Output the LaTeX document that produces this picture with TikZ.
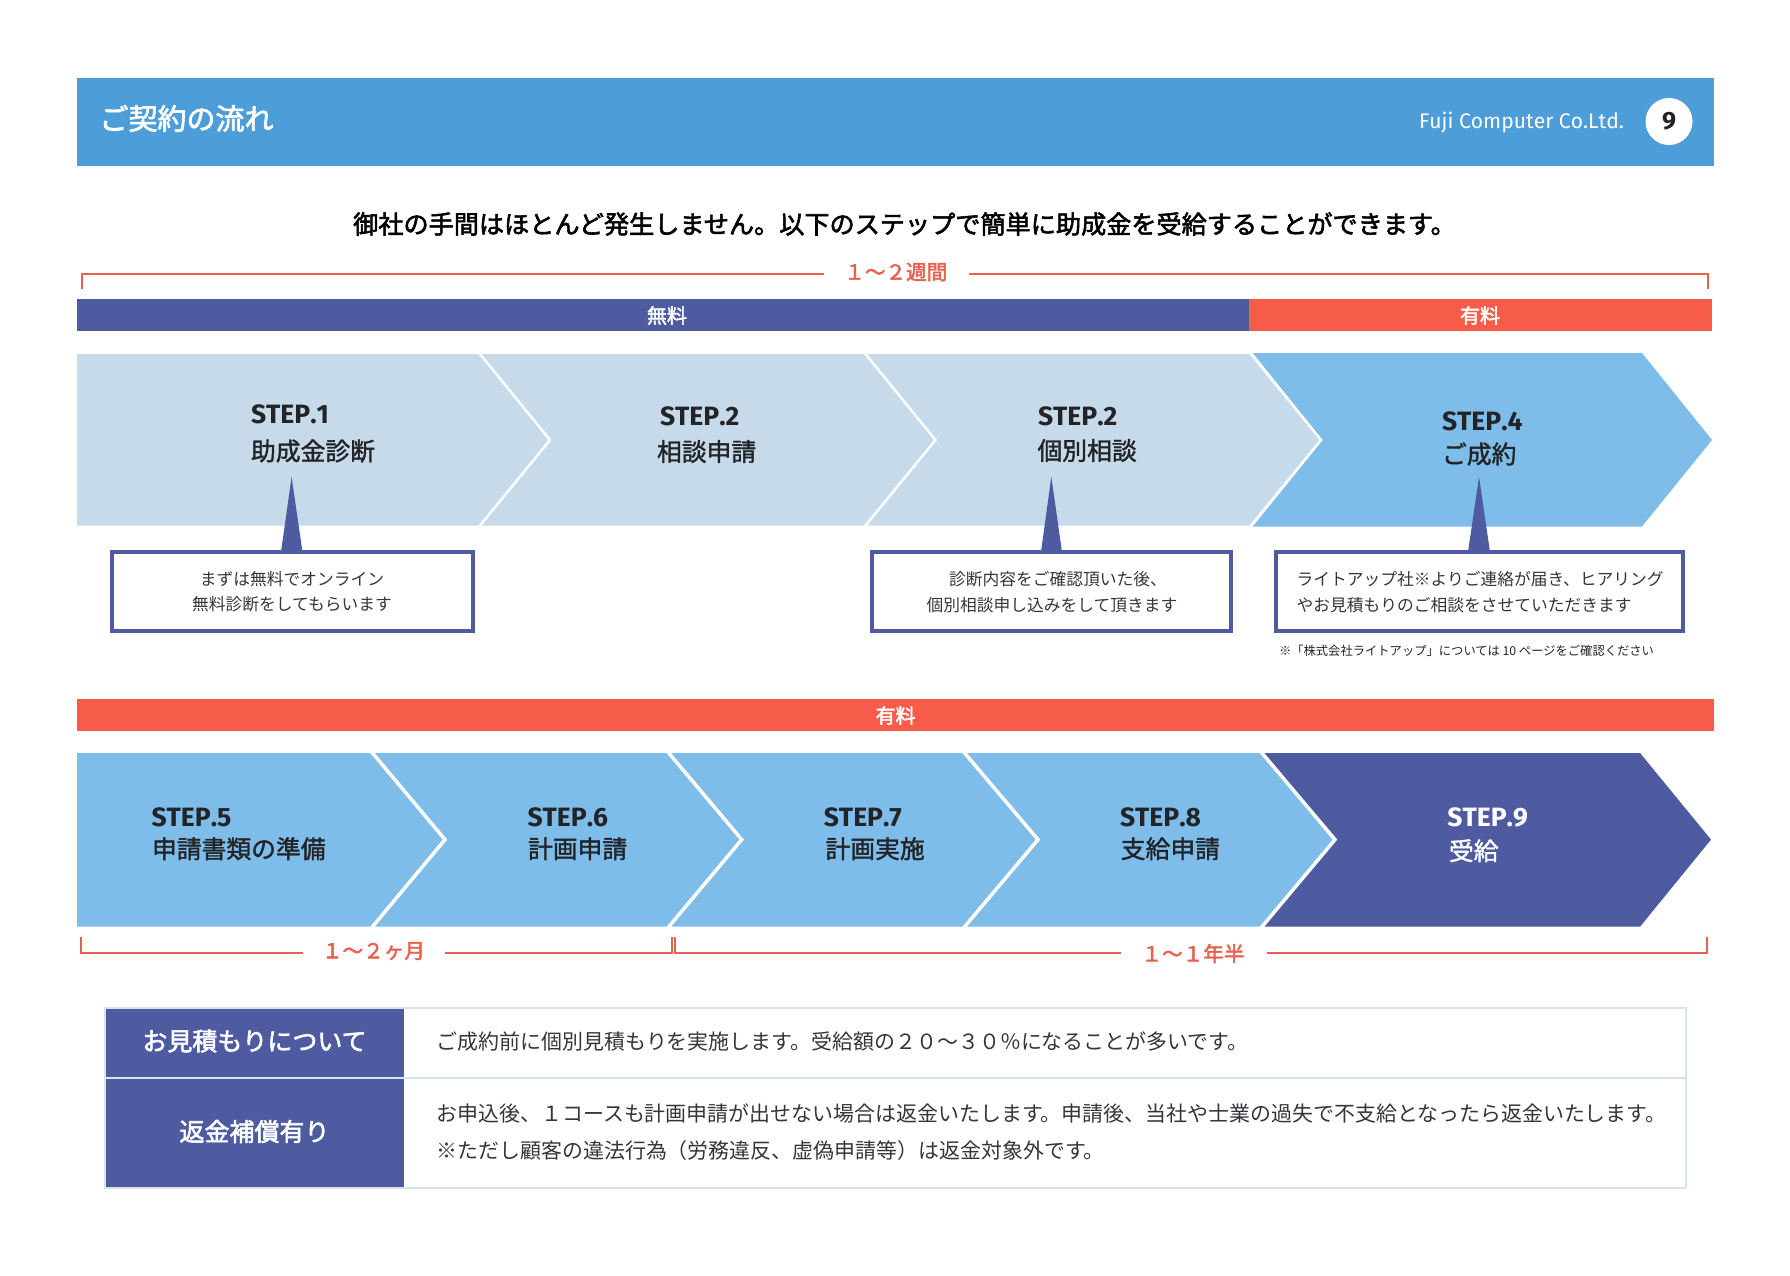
\documentclass[tikz,border=0pt]{standalone}
\usepackage{fontspec}
\setmainfont{Noto Sans CJK JP}
\newfontfamily\jpm[FakeBold=1.5]{Noto Sans CJK JP}
\newfontfamily\jps[FakeBold=2.2]{Noto Sans CJK JP}
\newfontfamily\latf[Kerning=Off]{Fira Sans}
\definecolor{headblue}{HTML}{4D9ED8}
\definecolor{indigo}{HTML}{4E5BA1}
\definecolor{coral}{HTML}{F75C4B}
\definecolor{rust}{HTML}{E8604E}
\definecolor{pale}{HTML}{C6DAE9}
\definecolor{midblue}{HTML}{7EBDE9}
\definecolor{ink}{HTML}{222428}
\definecolor{bodyink}{HTML}{33363A}
\definecolor{rule}{HTML}{D6E3EC}
\newcommand{\fs}[1]{\fontsize{#1pt}{#1pt}\selectfont}
\tikzset{
  x=1pt,y=-1pt,
  txt/.style={inner sep=0pt,outer sep=0pt,anchor=west,text=ink},
  ctr/.style={inner sep=0pt,outer sep=0pt,anchor=center},
  steplat/.style={txt,font=\latf\bfseries\fs{26.5}},
  stepjp/.style={txt,font=\jpm\fs{24.8}},
  barlabel/.style={ctr,text=white,font=\jps\fs{20}},
  timing/.style={ctr,text=rust,font=\jps\fs{20.6}},
  bracket/.style={draw=rust,line width=2pt},
  callout/.style={draw=indigo,line width=4pt,fill=white},
  callnote/.style={txt,text=bodyink,font=\fs{16.75}},
  bodytext/.style={txt,text=bodyink,font=\fs{20.95}},
  celllabel/.style={ctr,text=white,font=\jps\fs{25}},
}
\newcommand{\chev}[8]{% colour, left, notch, shoulder, tip, top, mid, bottom
  \fill[#1] (#2,#6) -- (#4,#6) -- (#5,#7) -- (#4,#8) -- (#2,#8) -- (#3,#7) -- cycle;}
\begin{document}
\begin{tikzpicture}
\useasboundingbox (0,0) rectangle (1790,1276);
\fill[white] (0,0) rectangle (1790,1276);

% header
\fill[headblue] (77,78) rectangle (1714,166);
\node[txt,text=white,font=\jps\fs{29}] (title) at (99.5,118.5) {ご契約の流れ};
\node[txt,text=white,font=\latf\fs{21.1}] (company) at (1419,122.5) {Fuji Computer Co.Ltd.};
\fill[white] (1669,121.5) circle (23.5);
\node[ctr,text=ink,font=\latf\bfseries\fs{25}] (page) at (1669,121.5) {9};

% subtitle
\node[ctr,font=\jps\fs{25.15}] (sub) at (904.5,224) {御社の手間はほとんど発生しません。以下のステップで簡単に助成金を受給することができます。};

% top timing
\node[timing] (t1) at (895.8,272) {１～２週間};
\coordinate (a1) at (81.5,289); \coordinate (a2) at (81.5,274); \coordinate (a3) at (824,274);
\coordinate (b1) at (969,274); \coordinate (b2) at (1707.5,274); \coordinate (b3) at (1707.5,289);
\draw[bracket] (a1) -- (a2) -- (a3);
\draw[bracket] (b1) -- (b2) -- (b3);

% bars
\fill[indigo] (77,299) rectangle (1249,331);
\fill[coral] (1249,299) rectangle (1712,331);
\node[barlabel] (free) at (667,315.5) {無料};
\node[barlabel] (paid1) at (1480,315.5) {有料};

% row 1 chevrons
\chev{pale}{77}{77}{478.2}{548.2}{354}{440}{525.5}
\chev{pale}{481.8}{551.8}{863.7}{933.7}{354}{440}{525.5}
\chev{pale}{867.3}{937.3}{1249.2}{1319.2}{354}{440}{525.5}
\chev{midblue}{1252.8}{1322.8}{1642}{1712}{353}{440}{526.5}

\node[steplat] (s1) at (251,414.7) {STEP.1};
\node[stepjp] (j1) at (251,451) {助成金診断};
\node[steplat] (s2) at (660,416.7) {STEP.2};
\node[stepjp] (j2) at (657,451.5) {相談申請};
\node[steplat] (s3) at (1038,416.7) {STEP.2};
\node[stepjp] (j3) at (1037.5,450.5) {個別相談};
\node[steplat] (s4) at (1442,421.6) {STEP.4};
\node[stepjp] (j4) at (1442,454) {ご成約};

% callouts
\fill[indigo] (291.6,476.7) -- (302.5,552) -- (281,552) -- cycle;
\fill[indigo] (1051.3,476.7) -- (1062,552) -- (1041,552) -- cycle;
\fill[indigo] (1479,476.7) -- (1490,552) -- (1468,552) -- cycle;
\path[callout] (111.6,552) rectangle (472.7,630.6);
\path[callout] (871.7,552) rectangle (1231.3,630.6);
\path[callout] (1275.5,552) rectangle (1682.5,630.6);
\node[callnote,anchor=center] (c1a) at (292,579) {まずは無料でオンライン};
\node[callnote,anchor=center] (c1b) at (292,604) {無料診断をしてもらいます};
\node[callnote,anchor=center] (c2a) at (1058,579.5) {診断内容をご確認頂いた後、};
\node[callnote,anchor=center] (c2b) at (1052,605) {個別相談申し込みをして頂きます};
\node[callnote] (c3a) at (1296.6,579.5) {ライトアップ社※よりご連絡が届き、ヒアリング};
\node[callnote] (c3b) at (1296.6,605) {やお見積もりのご相談をさせていただきます};
\node[txt,font=\fs{12.3}] (note) at (1279,650.6) {※「株式会社ライトアップ」については 10 ページをご確認ください};

% second section
\fill[coral] (77,699) rectangle (1714,731);
\node[barlabel] (paid2) at (895.5,715.5) {有料};

\chev{midblue}{77}{77}{370}{442.5}{753}{839.6}{926.7}
\chev{midblue}{375}{447.5}{666.3}{739.2}{753}{839.6}{926.7}
\chev{midblue}{671.3}{744.2}{962.1}{1035.5}{753}{839.6}{926.7}
\chev{midblue}{967.1}{1040.5}{1259.5}{1332.5}{753}{839.6}{926.7}
\chev{indigo}{1264.5}{1337.5}{1640}{1711}{753}{839.6}{926.7}

\node[steplat] (s5) at (151.5,817.6) {STEP.5};
\node[stepjp] (j5) at (152,848.7) {申請書類の準備};
\node[steplat] (s6) at (527.5,817.6) {STEP.6};
\node[stepjp] (j6) at (528,848.7) {計画申請};
\node[steplat] (s7) at (823.8,817.6) {STEP.7};
\node[stepjp] (j7) at (825.5,848.7) {計画実施};
\node[steplat] (s8) at (1120,817.6) {STEP.8};
\node[stepjp] (j8) at (1120.8,848.7) {支給申請};
\node[steplat,text=white] (s9) at (1447.4,817.6) {STEP.9};
\node[stepjp,text=white] (j9) at (1449,850.7) {受給};

% bottom timing
\node[timing] (t2) at (373.5,951) {１～２ヶ月};
\node[timing] (t3) at (1193,953.5) {１～１年半};
\coordinate (c1) at (81,937); \coordinate (c2) at (81,952.5); \coordinate (c3) at (303,952.5);
\coordinate (d1) at (445,952.5); \coordinate (d2) at (671.6,952.5); \coordinate (d3) at (671.6,937);
\coordinate (e1) at (674.5,937); \coordinate (e2) at (674.5,952.5); \coordinate (e3) at (1121,952.5);
\coordinate (f1) at (1267,952.5); \coordinate (f2) at (1707,952.5); \coordinate (f3) at (1707,937);
\draw[bracket] (c1) -- (c2) -- (c3);
\draw[bracket] (d1) -- (d2) -- (d3);
\draw[bracket] (e1) -- (e2) -- (e3);
\draw[bracket] (f1) -- (f2) -- (f3);

% table
\fill[indigo] (105,1008) rectangle (403.6,1078);
\fill[indigo] (105,1078) rectangle (403.6,1188);
\draw[rule,line width=1.5pt] (105,1008) rectangle (1686,1188);
\draw[rule,line width=2.5pt] (105,1078) -- (1686,1078);
\node[celllabel] (l1) at (254.5,1041) {お見積もりについて};
\node[celllabel] (l2) at (254.5,1131.5) {返金補償有り};
\node[bodytext] (r1) at (436.5,1041.5) {ご成約前に個別見積もりを実施します。受給額の２０～３０％になることが多いです。};
\node[bodytext] (r2) at (436.5,1113.7) {お申込後、１コースも計画申請が出せない場合は返金いたします。申請後、当社や士業の過失で不支給となったら返金いたします。};
\node[bodytext] (r3) at (436.5,1150.5) {※ただし顧客の違法行為（労務違反、虚偽申請等）は返金対象外です。};
\end{tikzpicture}
\end{document}
